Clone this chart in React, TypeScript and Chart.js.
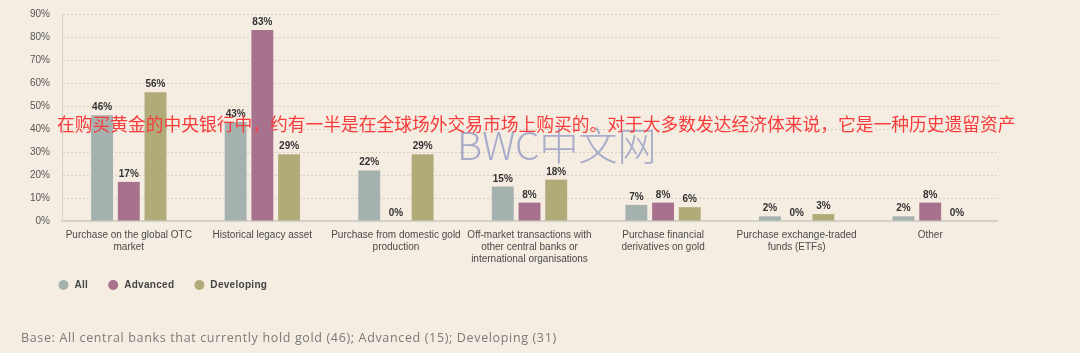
import React, { useEffect, useRef } from "react";
import { Chart, registerables } from "chart.js";

Chart.register(...registerables);

const categories: string[][] = [
  ["Purchase on the global OTC", "market"],
  ["Historical legacy asset"],
  ["Purchase from domestic gold", "production"],
  ["Off-market transactions with", "other central banks or", "international organisations"],
  ["Purchase financial", "derivatives on gold"],
  ["Purchase exchange-traded", "funds (ETFs)"],
  ["Other"],
];
const seriesNames = ["All", "Advanced", "Developing"];
const allValues = [46, 43, 22, 15, 7, 2, 2];
const advancedValues = [17, 83, 0, 8, 8, 0, 8];
const developingValues = [56, 29, 29, 18, 6, 3, 0];
const seriesColors = ["#a5b1ae", "#a8728f", "#b0ab79"];
const yTickValues = [0, 10, 20, 30, 40, 50, 60, 70, 80, 90];

const overlayText =
  "在购买黄金的中央银行中，约有一半是在全球场外交易市场上购买的。对于大多数发达经济体来说，它是一种历史遗留资产";
const watermarkText = "BWC中文网";
const footerText =
  "Base: All central banks that currently hold gold (46); Advanced (15); Developing (31)";

const SANS = "'Liberation Sans', Arial, sans-serif";

const valueLabels = {
  id: "valueLabels",
  afterDatasetsDraw(chart: any) {
    const ctx = chart.ctx;
    ctx.save();
    ctx.font = `bold 10px ${SANS}`;
    ctx.fillStyle = "#333333";
    ctx.textAlign = "center";
    ctx.textBaseline = "alphabetic";
    chart.data.datasets.forEach((ds: any, i: number) => {
      const meta = chart.getDatasetMeta(i);
      meta.data.forEach((bar: any, j: number) => {
        ctx.fillText(ds.data[j] + "%", bar.x, bar.y - 5);
      });
    });
    ctx.restore();
  },
};

const customLegend = {
  id: "customLegend",
  afterDraw(chart: any) {
    const ctx = chart.ctx;
    ctx.save();
    ctx.font = `bold 10px ${SANS}`;
    ctx.textBaseline = "middle";
    ctx.textAlign = "left";
    const y = chart.chartArea.bottom + 64;
    let cx = chart.chartArea.left + 1.5;
    chart.data.datasets.forEach((ds: any) => {
      ctx.fillStyle = ds.backgroundColor;
      ctx.beginPath();
      ctx.arc(cx, y, 5, 0, Math.PI * 2);
      ctx.fill();
      ctx.fillStyle = "#444444";
      const tx = cx + 11;
      (ctx as any).letterSpacing = "0.3px";
      ctx.fillText(ds.label, tx, y + 0.5);
      const w = ctx.measureText(ds.label).width;
      cx = tx + w + 25;
    });
    ctx.restore();
  },
};

export default function App() {
  const canvasRef = useRef<HTMLCanvasElement | null>(null);

  useEffect(() => {
    if (!canvasRef.current) return;
    const values = [allValues, advancedValues, developingValues];
    const chart = new Chart(canvasRef.current, {
      type: "bar",
      data: {
        labels: categories,
        datasets: seriesNames.map((name, i) => ({
          label: name,
          data: values[i],
          backgroundColor: seriesColors[i],
          borderWidth: 0,
          categoryPercentage: 0.6,
          barPercentage: 0.82,
        })),
      },
      options: {
        animation: false,
        responsive: false,
        maintainAspectRatio: false,
        layout: { padding: { left: 0, right: 83, top: 14, bottom: 72 } },
        plugins: {
          legend: { display: false },
          tooltip: { enabled: false },
          title: { display: false },
        },
        scales: {
          x: {
            grid: { display: false, drawTicks: false },
            border: { display: true, color: "#d3d2c8", width: 2 },
            ticks: {
              color: "#4a4a4a",
              font: { family: SANS, size: 10, lineHeight: 1.2 },
              padding: 8,
              maxRotation: 0,
              minRotation: 0,
              autoSkip: false,
            },
            afterFit(scale: any) {
              scale.height = 60;
            },
          },
          y: {
            min: 0,
            max: 90,
            afterBuildTicks(scale: any) {
              scale.ticks = yTickValues.map((v) => ({ value: v }));
            },
            grid: {
              color: "rgba(0,0,0,0.12)",
              drawTicks: false,
              lineWidth: 1,
            },
            border: { display: true, color: "#d6d5cc", width: 1, dash: [2, 2] },
            ticks: {
              color: "#555555",
              font: { family: SANS, size: 10 },
              padding: 12,
              callback: (v: any) => v + "%",
            },
            afterFit(scale: any) {
              scale.width = 62;
              scale.paddingTop = 4;
              scale.paddingBottom = 4;
            },
          },
        },
      },
      plugins: [valueLabels, customLegend],
    });
    return () => chart.destroy();
  }, []);

  return (
    <div
      style={{
        position: "absolute",
        left: 0,
        top: 0,
        width: 1080,
        height: 353,
        background: "#f5ede1",
        overflow: "hidden",
      }}
    >
      <canvas ref={canvasRef} width={1080} height={353} style={{ display: "block" }} />
      <div
        style={{
          position: "absolute",
          left: 457,
          top: 118,
          fontFamily: "'Noto Sans CJK SC', 'Noto Sans', sans-serif",
          fontWeight: 300,
          fontSize: 39,
          lineHeight: "50px",
          color: "rgba(140,150,195,0.75)",
          whiteSpace: "nowrap",
          pointerEvents: "none",
        }}
      >
        {watermarkText}
      </div>
      <div
        style={{
          position: "absolute",
          left: 57,
          top: 111,
          fontFamily: "'Noto Sans CJK SC', sans-serif",
          fontSize: 17.75,
          lineHeight: "24px",
          color: "#f83c3c",
          whiteSpace: "nowrap",
          pointerEvents: "none",
        }}
      >
        {overlayText}
      </div>
      <div
        style={{
          position: "absolute",
          left: 21,
          top: 329,
          fontFamily: "'Open Sans', sans-serif",
          fontSize: 12.5,
          lineHeight: "17px",
          letterSpacing: "0.65px",
          color: "#7a7a7a",
          whiteSpace: "nowrap",
        }}
      >
        {footerText}
      </div>
    </div>
  );
}
